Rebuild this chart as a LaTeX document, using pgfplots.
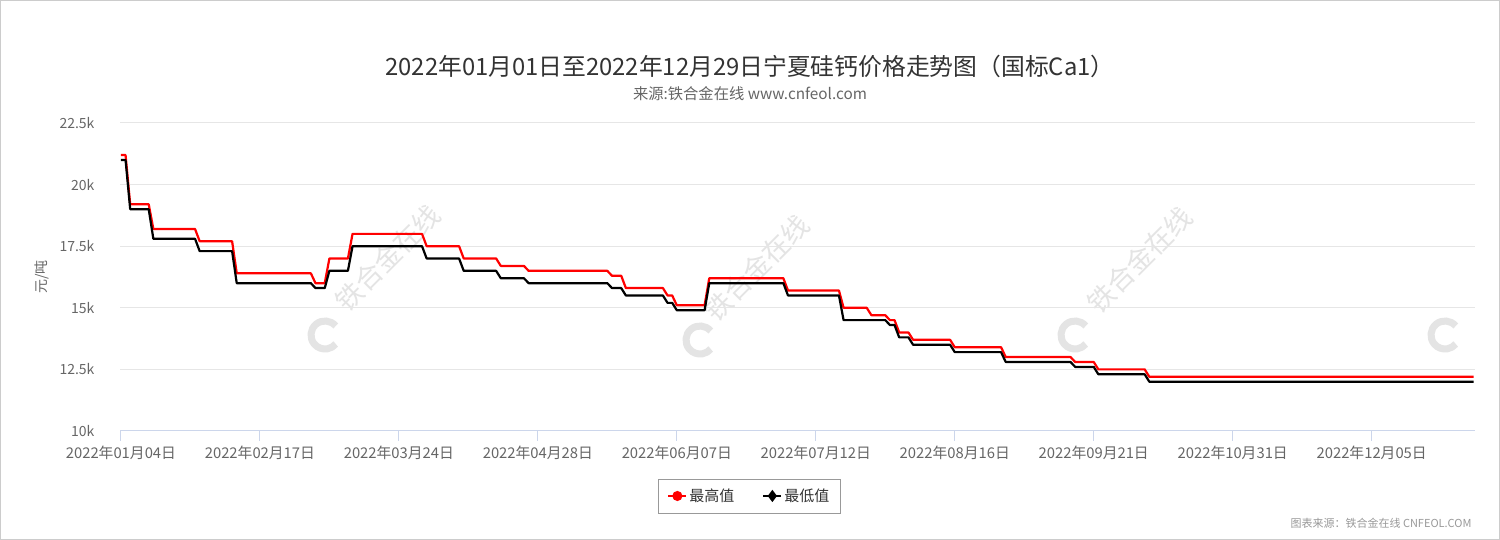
\documentclass[border=0pt]{standalone}
\usepackage{fontspec}
\setmainfont{Noto Sans CJK SC}
\usepackage{pgfplots}
\pgfplotsset{compat=1.18}

\definecolor{axisblue}{HTML}{CCD6EB}
\definecolor{gridgray}{HTML}{E6E6E6}
\definecolor{txt}{HTML}{666666}
\definecolor{ttl}{HTML}{333333}
\definecolor{wm}{HTML}{E4E4E4}

\begin{document}
\begin{tikzpicture}[x=1pt, y=1pt]
\useasboundingbox (0,0) rectangle (1500,540);
% page frame
\draw[fill=white, draw=gray!40, line width=1pt] (0.5,0.5) rectangle (1499.5,539.5);

% watermarks (faint, behind the chart)
\begin{scope}
\clip (1,1) rectangle (1499,539);
\foreach \wx/\wy in {388/282, 757/272, 1140/280} {
  \node[rotate=45, text=wm, font=\fontsize{27}{27}\selectfont] at (\wx,\wy) {铁合金在线};
}
\foreach \lx/\ly in {-50/205, 325/205, 700/200, 1075/205, 1445/205} {
  \draw[wm, line width=7pt] (\lx,\ly) ++(40:14pt) arc (40:320:14pt);
}
\end{scope}

% titles
\node[text=ttl, font=\fontsize{23.8}{26}\selectfont] at (750,474) {2022年01月01日至2022年12月29日宁夏硅钙价格走势图（国标Ca1）};
\node[text=txt, font=\fontsize{15.3}{17}\selectfont] at (750,446) {来源:铁合金在线 www.cnfeol.com};
\node[text=txt, rotate=90, font=\fontsize{14}{16}\selectfont] at (42,263) {元/吨};
\node[text=gray!80, anchor=east, font=\fontsize{11}{12}\selectfont] at (1475,17) {图表来源：铁合金在线 CNFEOL.COM};

\begin{axis}[
    at={(120pt,109pt)}, anchor=south west,
    width=1355pt, height=308pt, scale only axis,
    xmin=-0.2, xmax=292.3,
    ymin=10000, ymax=22500,
    axis lines*=left,
    x axis line style={draw=axisblue, line width=1pt},
    y axis line style={draw=none},
    scaled y ticks=false,
    ytick={10000,12500,15000,17500,20000,22500},
    yticklabels={10k,12.5k,15k,17.5k,20k,22.5k},
    ytick style={draw=none},
    xtick={0,30,60,90,120,150,180,210,240,270},
    xticklabels={2022年01月04日,2022年02月17日,2022年03月24日,2022年04月28日,2022年06月07日,2022年07月12日,2022年08月16日,2022年09月21日,2022年10月31日,2022年12月05日},
    xtick pos=left,
    tick align=outside,
    major tick length=10pt,
    xtick style={draw=axisblue, line width=1pt},
    ymajorgrids=true,
    grid style={draw=gridgray, line width=1pt},
    yticklabel style={text=txt, font=\fontsize{14}{16}\selectfont, xshift=-12pt},
    xticklabel style={text=txt, font=\fontsize{14.8}{16}\selectfont, yshift=-1pt},
    /pgf/number format/assume math mode=true,
    legend columns=2,
    legend style={at={(0.4645,-0.211)}, anchor=center, draw=gray!80, line width=0.8pt,
        font=\fontsize{15}{17}\selectfont, text=ttl,
        inner xsep=9pt, inner ysep=8pt,
        /tikz/every even column/.append style={column sep=26pt}},
    legend image code/.code={
        \draw[mark repeat=2, mark phase=2, #1] plot coordinates {(0pt,0pt) (9pt,0pt) (18pt,0pt)};},
]

\addplot[red, line width=2.2pt, line join=round, forget plot] coordinates {
(0,21200) (1,21200) (2,19200) (6,19200) (7,18200) (16,18200) (17,17700) (24,17700)
(25,16400) (41,16400) (42,16000) (44,16000) (45,17000) (49,17000) (50,18000) (65,18000)
(66,17500) (73,17500) (74,17000) (81,17000) (82,16700) (87,16700) (88,16500) (105,16500)
(106,16300) (108,16300) (109,15800) (117,15800) (118,15500) (119,15500) (120,15100) (126,15100)
(127,16200) (143,16200) (144,15700) (155,15700) (156,15000) (161,15000) (162,14700) (165,14700)
(166,14500) (167,14500) (168,14000) (170,14000) (171,13700) (179,13700) (180,13400) (190,13400)
(191,13000) (205,13000) (206,12800) (210,12800) (211,12500) (221,12500) (222,12200) (292,12200)
};

\addplot[black, line width=2.2pt, line join=round, forget plot] coordinates {
(0,21000) (1,21000) (2,19000) (6,19000) (7,17800) (16,17800) (17,17300) (24,17300)
(25,16000) (41,16000) (42,15800) (44,15800) (45,16500) (49,16500) (50,17500) (65,17500)
(66,17000) (73,17000) (74,16500) (81,16500) (82,16200) (87,16200) (88,16000) (105,16000)
(106,15800) (108,15800) (109,15500) (117,15500) (118,15200) (119,15200) (120,14900) (126,14900)
(127,16000) (143,16000) (144,15500) (155,15500) (156,14500) (165,14500)
(166,14300) (167,14300) (168,13800) (170,13800) (171,13500) (179,13500) (180,13200) (190,13200)
(191,12800) (205,12800) (206,12600) (210,12600) (211,12300) (221,12300) (222,12000) (292,12000)
};

\addlegendimage{red, line width=2pt, mark=*, mark size=4pt}
\addlegendentry{最高值}
\addlegendimage{black, line width=2pt, mark=diamond*, mark size=4.5pt}
\addlegendentry{最低值}
\end{axis}
\end{tikzpicture}
\end{document}
